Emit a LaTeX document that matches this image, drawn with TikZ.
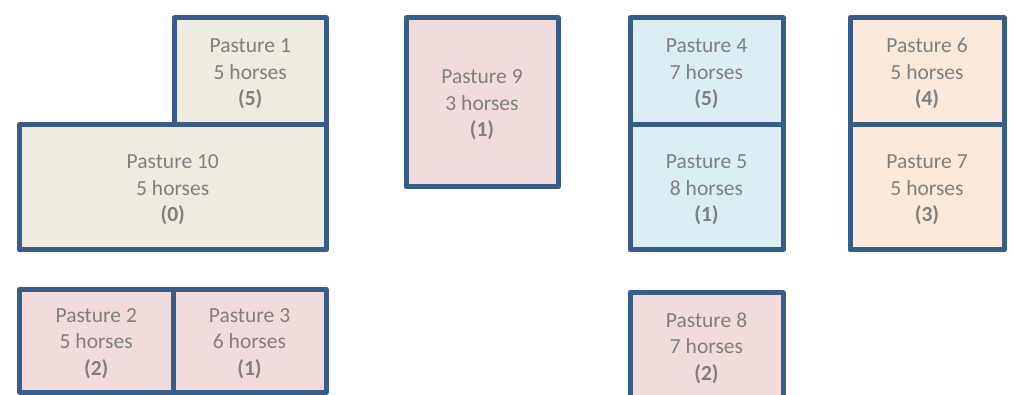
\documentclass[tikz,border=0pt]{standalone}
\usepackage{fontspec}
\setmainfont{Carlito}
\definecolor{edge}{HTML}{385D8A}
\definecolor{txt}{HTML}{7F7F7F}
\definecolor{tan}{HTML}{EEECE1}
\definecolor{pink}{HTML}{F2DCDB}
\definecolor{sky}{HTML}{DBEEF4}
\definecolor{peach}{HTML}{FDE9D9}
\tikzset{
  pasture/.style={draw=edge, line width=5pt, line join=round, rectangle, inner sep=0pt},
  ptext/.style={align=center, text=txt, font=\fontsize{21.5}{26.5}\selectfont, yshift=-2.5pt}
}
\newcommand{\pst}[3]{Pasture #1\\#2 horses\\\textbf{(#3)}}
\begin{document}
\begin{tikzpicture}[x=1pt,y=-1pt]
\useasboundingbox (0,0) rectangle (1015,395);
\clip (0,0) rectangle (1015,395);
\node[pasture, fill=tan, minimum width=151.5pt, minimum height=106.5pt,
  label={[ptext]center:\pst{1}{5}{5}}] (p1) at (250.25,71.25) {};
\node[pasture, fill=tan, minimum width=306.5pt, minimum height=125.5pt,
  label={[ptext]center:\pst{10}{5}{0}}] (p10) at (172.75,187.25) {};
\node[pasture, fill=pink, minimum width=153.5pt, minimum height=102.5pt,
  label={[ptext]center:\pst{2}{5}{2}}] (p2) at (96.25,340.75) {};
\node[pasture, fill=pink, minimum width=153pt, minimum height=102.5pt,
  label={[ptext]center:\pst{3}{6}{1}}] (p3) at (249.5,340.75) {};
\node[pasture, fill=pink, minimum width=152pt, minimum height=169pt,
  label={[ptext]center:\pst{9}{3}{1}}] (p9) at (482,102.5) {};
\node[pasture, fill=sky, minimum width=153pt, minimum height=106.5pt,
  label={[ptext]center:\pst{4}{7}{5}}] (p4) at (706.5,71.25) {};
\node[pasture, fill=sky, minimum width=153pt, minimum height=125.5pt,
  label={[ptext]center:\pst{5}{8}{1}}] (p5) at (706.5,187.25) {};
\node[pasture, fill=peach, minimum width=154pt, minimum height=106.5pt,
  label={[ptext]center:\pst{6}{5}{4}}] (p6) at (927,71.25) {};
\node[pasture, fill=peach, minimum width=154pt, minimum height=125.5pt,
  label={[ptext]center:\pst{7}{5}{3}}] (p7) at (927,187.25) {};
\node[pasture, fill=pink, minimum width=153pt, minimum height=105pt,
  label={[ptext]center:\pst{8}{7}{2}}] (p8) at (706.5,345.5) {};
\end{tikzpicture}
\end{document}
